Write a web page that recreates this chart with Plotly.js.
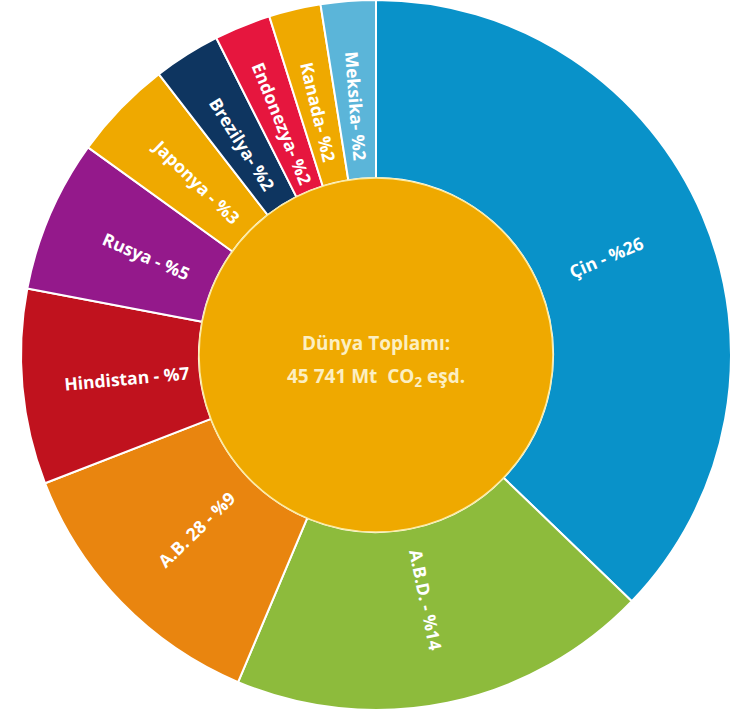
<!DOCTYPE html>
<html>
<head>
<meta charset="utf-8">
<script src="https://cdn.plot.ly/plotly-3.0.1.min.js"></script>
<style>html,body{margin:0;padding:0;background:#fff;}#chart{width:733px;height:713px;}</style>
</head>
<body>
<div id="chart"></div>
<script>
// Countries (clockwise from 12 o'clock) and their share (%) of world GHG emissions, as drawn
const countries = ["Çin", "A.B.D.", "A.B. 28", "Hindistan", "Rusya", "Japonya", "Brezilya", "Endonezya", "Kanada", "Meksika"];
const shares = [26.8, 13.8, 9.2, 6.4, 5.0, 3.3, 2.2, 1.85, 1.7, 1.8];
const labelTexts = ["Çin - %26", "A.B.D. - %14", "A.B. 28 - %9", "Hindistan - %7", "Rusya - %5", "Japonya - %3", "Brezilya- %2", "Endonezya- %2", "Kanada- %2", "Meksika- %2"];
const sliceColors = ["#0992c9", "#8dbb3c", "#e9850f", "#c0121e", "#94198b", "#efa900", "#0e3560", "#e6163e", "#efa900", "#5bb5d9"];
const centerLines = ["Dünya Toplamı:", "45 741 Mt  CO<sub>2</sub> eşd."];
const centerColor = "#efa900";

const W = 733, H = 713;
const cx = 376, cy = 355, R = 355, r = 177, rl = 250;
const FONT = "'Open Sans', Lato, sans-serif";

const ring = {
  type: "pie",
  labels: countries,
  values: shares,
  textinfo: "none",
  sort: false,
  direction: "clockwise",
  rotation: 0,
  hole: r / R,
  marker: {colors: sliceColors, line: {color: "#ffffff", width: 2}},
  domain: {x: [(cx - R) / W, (cx + R) / W], y: [Math.max(0, 1 - (cy + R) / H), Math.min(1, 1 - (cy - R) / H)]},
  showlegend: false,
  hoverinfo: "label+value"
};

const center = {
  type: "pie",
  labels: ["Dünya Toplamı"],
  values: [1],
  textinfo: "none",
  sort: false,
  marker: {colors: [centerColor], line: {color: "#fbeaa0", width: 1.5}},
  domain: {x: [(cx - r) / W, (cx + r) / W], y: [1 - (cy + r) / H, 1 - (cy - r) / H]},
  showlegend: false,
  hoverinfo: "none"
};

// radial slice labels, placed at each slice's mid-angle
const total = shares.reduce((a, b) => a + b, 0);
const annotations = [];
let cum = 0;
shares.forEach((v, i) => {
  const mid = (cum + v / 2) / total * 360;
  cum += v;
  const rad = mid * Math.PI / 180;
  const px = cx + rl * Math.sin(rad);
  const py = cy - rl * Math.cos(rad);
  const ang = mid < 180 ? mid - 90 : mid - 270;
  annotations.push({
    text: labelTexts[i], x: px / W, y: 1 - py / H, xref: "paper", yref: "paper",
    showarrow: false, textangle: ang, xanchor: "center", yanchor: "middle",
    font: {family: FONT, size: 17.5, color: "#ffffff", weight: 700}
  });
});
annotations.push(
  {text: centerLines[0], x: cx / W, y: 1 - 343 / H, xref: "paper", yref: "paper", showarrow: false,
   font: {family: FONT, size: 19, color: "#fcefc2", weight: 700}},
  {text: centerLines[1], x: cx / W, y: 1 - 377 / H, xref: "paper", yref: "paper", showarrow: false,
   font: {family: FONT, size: 19, color: "#fcefc2", weight: 700}}
);

const layout = {
  width: W, height: H,
  margin: {l: 0, r: 0, t: 0, b: 0},
  paper_bgcolor: "#ffffff",
  showlegend: false,
  annotations: annotations
};

Plotly.newPlot("chart", [ring, center], layout, {displayModeBar: false, staticPlot: true});
</script>
</body>
</html>
